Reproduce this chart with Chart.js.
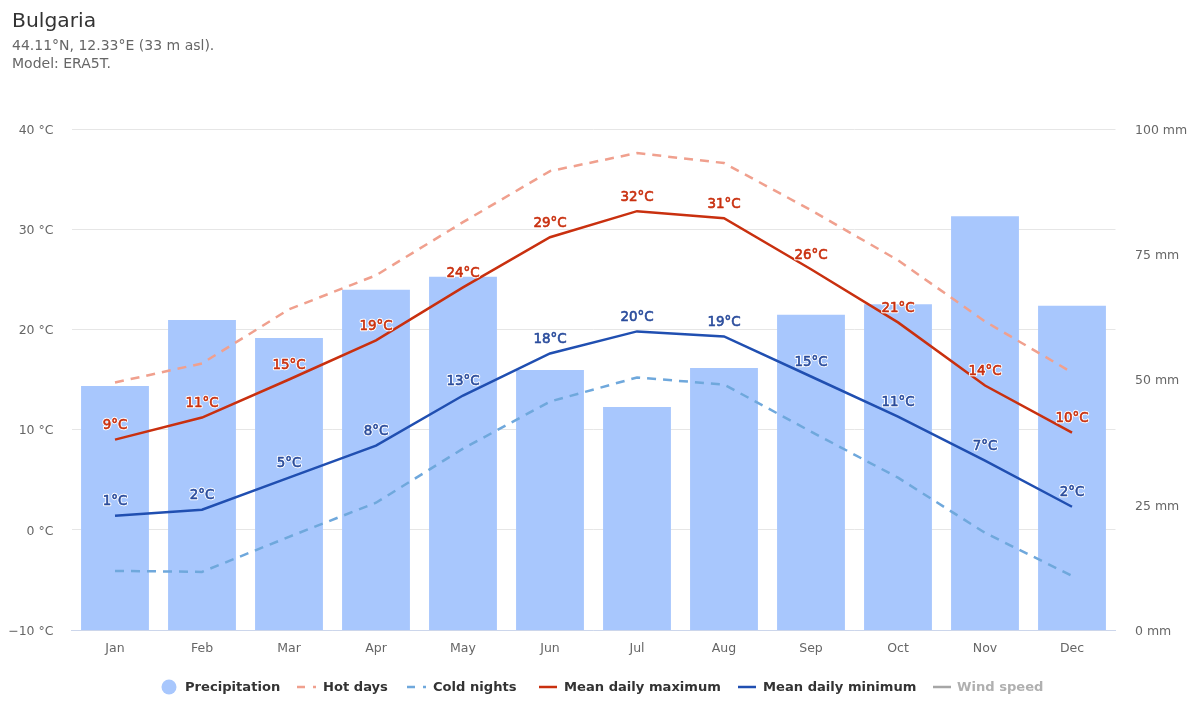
<!DOCTYPE html>
<html>
<head>
<meta charset="utf-8">
<title>Bulgaria</title>
<script src="https://cdn.jsdelivr.net/npm/chart.js@4/dist/chart.umd.min.js"></script>
<style>
  html, body { margin: 0; padding: 0; background: #fff; }
  #wrap { position: relative; width: 1200px; height: 720px; overflow: hidden; font-family: "DejaVu Sans", sans-serif; }
  #title { position: absolute; left: 12px; top: 8px; font-size: 20.3px; color: #333; }
  #subtitle { position: absolute; left: 12px; top: 36px; font-size: 14px; line-height: 18px; color: #666; }
  #legend { position: absolute; left: 0; top: 677px; width: 1200px; height: 20px; font: bold 13.1px "DejaVu Sans", sans-serif; color: #333; }
  .item { position: absolute; top: 0; line-height: 20px; white-space: nowrap; }
  .item svg { position: absolute; left: 0; top: 0; }
  .item span { position: absolute; top: 0; }
</style>
</head>
<body>
<div id="wrap">
  <canvas id="climate" width="1200" height="720"></canvas>
  <div id="title">Bulgaria</div>
  <div id="subtitle">44.11°N, 12.33°E (33 m asl).<br>Model: ERA5T.</div>
  <div id="legend"></div>
</div>
<script>
const months = ['Jan', 'Feb', 'Mar', 'Apr', 'May', 'Jun', 'Jul', 'Aug', 'Sep', 'Oct', 'Nov', 'Dec'];
const precipitation = [48.7, 61.9, 58.3, 67.9, 70.5, 51.9, 44.5, 52.3, 62.9, 65, 82.6, 64.7];
const hotDays = [14.7, 16.6, 22, 25.4, 30.7, 35.8, 37.6, 36.6, 31.9, 26.9, 20.8, 15.7];
const coldNights = [-4.1, -4.2, -0.7, 2.7, 8.1, 12.8, 15.2, 14.5, 9.8, 5.2, -0.3, -4.6];
const meanMax = [9, 11.2, 15, 18.9, 24.2, 29.2, 31.8, 31.1, 26, 20.7, 14.4, 9.7];
const meanMin = [1.4, 2, 5.2, 8.4, 13.4, 17.6, 19.8, 19.3, 15.3, 11.3, 6.9, 2.3];

const barColor = '#a8c7fd';
const hotColor = '#f0a08e';
const coldColor = '#6fa8dc';
const maxColor = '#c9300f';
const minColor = '#204fb1';
const windColor = '#a6a6a6';
const gridColor = '#e6e6e6';
const tickColor = '#666666';

// values drawn over the two mean lines, with a white halo
const pointLabels = {
  id: 'pointLabels',
  afterDatasetsDraw(chart) {
    const { ctx } = chart;
    ctx.save();
    ctx.font = '13.4px "DejaVu Sans", sans-serif';
    ctx.textAlign = 'center';
    ctx.textBaseline = 'middle';
    ctx.lineJoin = 'round';
    chart.data.datasets.forEach((dataset, i) => {
      if (!dataset.labelColor) return;
      chart.getDatasetMeta(i).data.forEach((point, j) => {
        const text = Math.round(dataset.data[j]) + '°C';
        ctx.lineWidth = 2.5;
        ctx.strokeStyle = '#ffffff';
        ctx.strokeText(text, point.x, point.y - 14);
        ctx.lineWidth = 0.6;
        ctx.strokeStyle = dataset.labelColor;
        ctx.strokeText(text, point.x, point.y - 14);
        ctx.fillStyle = dataset.labelColor;
        ctx.fillText(text, point.x, point.y - 14);
      });
    });
    ctx.restore();
  },
};

const line = (label, data, color, extra) => ({
  type: 'line',
  label,
  data,
  yAxisID: 'temp',
  borderColor: color,
  borderWidth: 2.5,
  pointRadius: 0,
  tension: 0,
  fill: false,
  order: 1,
  ...extra,
});

new Chart(document.getElementById('climate'), {
  type: 'bar',
  plugins: [pointLabels],
  data: {
    labels: months,
    datasets: [
      {
        label: 'Precipitation',
        data: precipitation,
        yAxisID: 'rain',
        backgroundColor: barColor,
        categoryPercentage: 1,
        barPercentage: 0.78,
        order: 2,
      },
      line('Hot days', hotDays, hotColor, { borderDash: [9, 7] }),
      line('Cold nights', coldNights, coldColor, { borderDash: [9, 7] }),
      line('Mean daily maximum', meanMax, maxColor, { labelColor: maxColor }),
      line('Mean daily minimum', meanMin, minColor, { labelColor: '#2a4c9c' }),
    ],
  },
  options: {
    responsive: false,
    animation: false,
    layout: { padding: { top: 129, bottom: 0, left: 0, right: 0 } },
    plugins: { legend: { display: false }, tooltip: { enabled: false } },
    scales: {
      x: {
        offset: true,
        grid: { display: false, drawTicks: false },
        border: { color: '#ccd6eb', width: 1 },
        ticks: { color: tickColor, font: { size: 12.5, family: '"DejaVu Sans"' }, padding: 11, maxRotation: 0 },
        afterFit(axis) { axis.height = 90; },
      },
      temp: {
        position: 'left',
        min: -10,
        max: 40,
        grid: { color: gridColor, drawTicks: false },
        border: { display: false },
        ticks: {
          stepSize: 10,
          color: tickColor,
          font: { size: 12.5, family: '"DejaVu Sans"' },
          padding: 18,
          labelOffset: 1.5,
          callback: (v) => v.toString().replace('-', '−') + ' °C',
        },
        afterFit(axis) { axis.width = 71.5; },
      },
      rain: {
        position: 'right',
        min: 0,
        max: 100,
        grid: { display: false, drawTicks: false },
        border: { display: false },
        ticks: {
          stepSize: 25,
          color: tickColor,
          font: { size: 12.5, family: '"DejaVu Sans"' },
          padding: 19.5,
          labelOffset: 1.5,
          callback: (v) => v + ' mm',
        },
        afterFit(axis) { axis.width = 84.5; },
      },
    },
  },
});

// legend row, same entries as the datasets plus the inactive wind speed
const legendItems = [
  { text: 'Precipitation', kind: 'dot', color: barColor, x: 161, tx: 185 },
  { text: 'Hot days', kind: 'dash', color: hotColor, x: 297, tx: 323 },
  { text: 'Cold nights', kind: 'dash', color: coldColor, x: 407, tx: 433 },
  { text: 'Mean daily maximum', kind: 'line', color: maxColor, x: 539, tx: 564 },
  { text: 'Mean daily minimum', kind: 'line', color: minColor, x: 738, tx: 763 },
  { text: 'Wind speed', kind: 'line', color: windColor, x: 933, tx: 957, muted: true },
];
const legend = document.getElementById('legend');
for (const item of legendItems) {
  const el = document.createElement('div');
  el.className = 'item';
  el.style.left = item.x + 'px';
  let mark = '';
  if (item.kind === 'dot') mark = `<circle cx="8" cy="10" r="7.5" fill="${item.color}"/>`;
  if (item.kind === 'line') mark = `<line x1="0" x2="18" y1="10" y2="10" stroke="${item.color}" stroke-width="2.5"/>`;
  if (item.kind === 'dash') mark = `<line x1="0" x2="19" y1="10" y2="10" stroke="${item.color}" stroke-width="2.5" stroke-dasharray="8 8 3"/>`;
  el.innerHTML = `<svg width="20" height="20">${mark}</svg><span style="left:${item.tx - item.x}px;${item.muted ? 'color:#b0b0b0' : ''}">${item.text}</span>`;
  legend.appendChild(el);
}
</script>
</body>
</html>
